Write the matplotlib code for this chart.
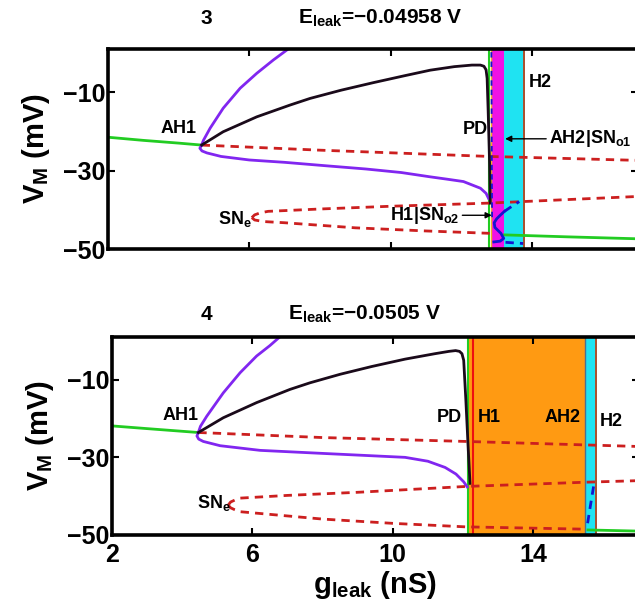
import numpy as np
import matplotlib
matplotlib.use('Agg')
import matplotlib.pyplot as plt

plt.rcParams['font.family'] = 'Liberation Sans'
plt.rcParams['font.weight'] = 'bold'
plt.rcParams['axes.labelweight'] = 'bold'
plt.rcParams['mathtext.fontset'] = 'custom'
plt.rcParams['mathtext.rm'] = 'Liberation Sans:bold'
plt.rcParams['mathtext.it'] = 'Liberation Sans:bold'
plt.rcParams['mathtext.bf'] = 'Liberation Sans:bold'
plt.rcParams['mathtext.default'] = 'rm'

GREEN = '#22cc22'
PURPLE = '#8126f0'
DARK = '#1a0a1a'
RED = '#cc1f1f'
BLUE = '#1414d0'
MAGENTA = '#f012e6'
CYAN = '#1fe3f2'
ORANGE = '#ff9a12'
BROWN = '#a0401a'

# ---------------- panel 3 : E_leak = -0.04958 V ----------------
p3_green_l_x = [2.0, 3.0, 4.0, 4.65]
p3_green_l_y = [-21.5, -22.3, -23.0, -23.5]
p3_purple_up_x = [4.65, 4.7, 4.89, 5.26, 5.74, 6.21, 6.68, 7.1, 7.2]
p3_purple_up_y = [-23.5, -22.3, -19.2, -14.1, -9.0, -5.2, -1.8, 1.0, 1.7]
p3_purple_lo_x = [4.65, 4.6, 4.66, 4.8, 5.2, 6.0, 7.0, 8.2, 9.3, 10.3, 11.12, 11.6, 12.06, 12.54, 12.7, 12.77]
p3_purple_lo_y = [-23.5, -24.3, -25.0, -25.5, -26.4, -27.3, -27.9, -28.8, -29.6, -30.5, -31.6, -32.2, -32.8, -34.5, -35.8, -37.1]
p3_black_x = [4.65, 5.26, 6.21, 7.15, 7.72, 8.6, 9.5, 10.4, 11.12, 11.8, 12.3, 12.54, 12.64, 12.7, 12.73, 12.76, 12.8, 12.82]
p3_black_y = [-23.5, -20.1, -16.3, -13.3, -11.6, -9.5, -7.6, -5.8, -4.4, -3.5, -3.1, -3.1, -3.4, -4.3, -6.5, -15.0, -28.0, -38.3]
p3_red_up_x = [4.65, 8.0, 12.8, 17.0]
p3_red_up_y = [-23.5, -24.8, -26.4, -27.4]
p3_red_mid_x = [6.07, 6.15, 6.3, 6.53, 8.0, 10.0, 12.77, 15.0, 17.0]
p3_red_mid_y = [-42.0, -41.3, -40.8, -40.4, -39.8, -39.1, -38.3, -37.4, -36.6]
p3_red_lo_x = [6.07, 6.15, 6.4, 6.99, 9.0, 11.0, 12.8]
p3_red_lo_y = [-42.0, -42.6, -43.0, -43.3, -44.6, -45.4, -46.0]
p3_green_r_x = [13.22, 15.0, 17.0]
p3_green_r_y = [-46.4, -46.9, -47.4]
p3_blue_x = [12.92, 13.1, 13.2, 13.12, 12.95, 12.93, 13.0, 13.1, 13.22]
p3_blue_y = [-48.2, -48.0, -47.3, -46.0, -44.5, -43.3, -42.3, -41.4, -40.4]
p3_blue_dash_x = [13.22, 13.35, 13.64]
p3_blue_dash_y = [-40.4, -39.6, -37.9]
p3_blue_bot_x = [13.25, 13.75]
p3_blue_bot_y = [-48.3, -48.6]
p3_blue_vert_x = [12.85, 12.87]
p3_blue_vert_y = [0.2, -42.0]
p3_pd, p3_yel = 12.79, 12.83
p3_magenta = (12.88, 13.22)
p3_cyan = (13.22, 13.75)
p3_h2 = 13.77

# ---------------- panel 4 : E_leak = -0.0505 V ----------------
p4_green_l_x = [2.0, 3.0, 4.46]
p4_green_l_y = [-21.9, -22.6, -23.6]
p4_purple_up_x = [4.46, 4.52, 4.7, 5.17, 5.65, 6.12, 6.5, 6.79, 6.9]
p4_purple_up_y = [-23.6, -22.0, -19.4, -13.4, -8.2, -3.9, -1.2, 1.1, 1.8]
p4_purple_lo_x = [4.46, 4.42, 4.47, 4.6, 5.08, 6.22, 8.04, 10.35, 11.0, 11.49, 11.8, 12.02, 12.12]
p4_purple_lo_y = [-23.6, -24.5, -25.3, -25.9, -27.0, -28.2, -29.0, -30.0, -31.0, -32.6, -34.3, -36.3, -37.6]
p4_black_x = [4.46, 5.17, 6.12, 7.07, 7.64, 8.5, 9.4, 10.35, 11.2, 11.6, 11.79, 11.9, 11.97, 12.02, 12.08, 12.15, 12.2]
p4_black_y = [-23.6, -19.8, -15.9, -12.5, -10.8, -8.6, -6.6, -4.7, -3.3, -2.7, -2.5, -2.7, -3.3, -5.0, -15.0, -28.0, -36.7]
p4_red_up_x = [4.46, 8.0, 12.07, 15.5, 17.0]
p4_red_up_y = [-23.6, -24.9, -25.9, -26.8, -27.2]
p4_red_mid_x = [5.31, 5.38, 5.5, 5.65, 7.0, 9.0, 12.07, 15.5, 17.0]
p4_red_mid_y = [-42.3, -41.5, -41.0, -40.5, -39.8, -39.0, -37.5, -36.4, -36.0]
p4_red_lo_x = [5.31, 5.38, 5.5, 5.65, 8.0, 10.0, 12.07, 15.47]
p4_red_lo_y = [-42.3, -43.0, -43.5, -44.0, -45.9, -47.0, -47.9, -48.5]
p4_green_r_x = [15.56, 17.0]
p4_green_r_y = [-48.7, -49.0]
p4_blue_x = [15.72, 15.62, 15.55, 15.6]
p4_blue_y = [-37.5, -43.0, -47.0, -48.3]
p4_pd, p4_h1 = 12.13, 12.29
p4_orange = (12.15, 15.47)
p4_cyan = (15.47, 15.76)
p4_h2 = 15.79

xticks = [2, 6, 10, 14]
yticks = [-50, -30, -10]

W, H = 635, 605
fig = plt.figure(figsize=(W / 100, H / 100), dpi=100)
ax3 = fig.add_axes([108 / W, (H - 249) / H, 530 / W, 200 / H])
ax4 = fig.add_axes([112 / W, (H - 535) / H, 526.5 / W, 198 / H])

lw = 2.0
dash = (0, (3.0, 2.2))


def style(ax, labels):
    ax.set_xlim(2, 17)
    ax.set_ylim(-50, 1)
    ax.set_xticks(xticks)
    ax.set_yticks(yticks)
    ax.tick_params(direction='in', top=True, right=True, length=5, width=1.5,
                   labelsize=18, pad=2)
    ax.tick_params(axis='x', pad=6)
    if not labels:
        ax.tick_params(labelbottom=False)
    for s in ax.spines.values():
        s.set_linewidth(2.6)
        s.set_zorder(10)
    ax.set_ylabel('V$_{M}$ (mV)', fontsize=21, labelpad=8)


# panel 3
ax = ax3
ax.axvspan(*p3_magenta, color=MAGENTA, lw=0, zorder=1)
ax.axvspan(*p3_cyan, color=CYAN, lw=0, zorder=1)
ax.axvline(p3_pd, color=GREEN, lw=1.5, zorder=2)
ax.axvline(p3_yel, color='#f0b020', lw=1.0, zorder=2)
ax.axvline(p3_h2, color=BROWN, lw=1.3, zorder=2)
ax.plot(p3_green_l_x, p3_green_l_y, color=GREEN, lw=lw)
ax.plot(p3_green_r_x, p3_green_r_y, color=GREEN, lw=lw)
ax.plot(p3_red_up_x, p3_red_up_y, color=RED, lw=lw, ls=dash)
ax.plot(p3_red_mid_x, p3_red_mid_y, color=RED, lw=lw, ls=dash)
ax.plot(p3_red_lo_x, p3_red_lo_y, color=RED, lw=lw, ls=dash)
ax.plot(p3_purple_up_x, p3_purple_up_y, color=PURPLE, lw=lw)
ax.plot(p3_purple_lo_x, p3_purple_lo_y, color=PURPLE, lw=lw)
ax.plot(p3_black_x, p3_black_y, color=DARK, lw=lw)
ax.plot(p3_blue_vert_x, p3_blue_vert_y, color=BLUE, lw=1.3, ls=dash)
ax.plot(p3_blue_x, p3_blue_y, color=BLUE, lw=lw)
ax.plot(p3_blue_dash_x, p3_blue_dash_y, color=BLUE, lw=lw, ls=dash)
ax.plot(p3_blue_bot_x, p3_blue_bot_y, color=BLUE, lw=lw, ls=dash)
fs = 13
ax.text(4.0, -20.3, 'AH1', fontsize=fs, ha='center', va='baseline')
ax.text(12.4, -20.8, 'PD', fontsize=fs, ha='center', va='baseline')
ax.text(14.24, -8.6, 'H2', fontsize=fs, ha='center', va='baseline')
ax.text(5.6, -43.5, 'SN$_{e}$', fontsize=fs, ha='center', va='baseline')
ax.annotate('AH2|SN$_{o1}$', xy=(13.24, -21.9), xytext=(14.48, -21.9),
            fontsize=fs, ha='left', va='center',
            arrowprops=dict(arrowstyle='-|>', color='black', lw=1.0,
                            mutation_scale=9, shrinkA=0, shrinkB=0))
ax.annotate('H1|SN$_{o2}$', xy=(12.86, -41.4), xytext=(11.95, -41.4),
            fontsize=fs, ha='right', va='center',
            arrowprops=dict(arrowstyle='-|>', color='black', lw=1.0,
                            mutation_scale=9, shrinkA=0, shrinkB=0))
style(ax, False)

# panel 4
ax = ax4
ax.axvspan(*p4_orange, color=ORANGE, lw=0, zorder=1)
ax.axvspan(*p4_cyan, color=CYAN, lw=0, zorder=1)
ax.axvline(p4_orange[1], color='#4a7090', lw=1.0, zorder=2)
ax.axvline(p4_pd, color=GREEN, lw=1.5, zorder=2)
ax.axvline(p4_h1, color='#ee1010', lw=1.5, zorder=2)
ax.axvline(p4_h2, color=BROWN, lw=1.3, zorder=2)
ax.plot(p4_green_l_x, p4_green_l_y, color=GREEN, lw=lw)
ax.plot(p4_green_r_x, p4_green_r_y, color=GREEN, lw=lw)
ax.plot(p4_red_up_x, p4_red_up_y, color=RED, lw=lw, ls=dash)
ax.plot(p4_red_mid_x, p4_red_mid_y, color=RED, lw=lw, ls=dash)
ax.plot(p4_red_lo_x, p4_red_lo_y, color=RED, lw=lw, ls=dash)
ax.plot(p4_purple_up_x, p4_purple_up_y, color=PURPLE, lw=lw)
ax.plot(p4_purple_lo_x, p4_purple_lo_y, color=PURPLE, lw=lw)
ax.plot(p4_black_x, p4_black_y, color=DARK, lw=lw)
ax.plot(p4_blue_x, p4_blue_y, color=BLUE, lw=lw, ls=dash)
ax.text(3.94, -20.3, 'AH1', fontsize=fs, ha='center', va='baseline')
ax.text(11.6, -21.0, 'PD', fontsize=fs, ha='center', va='baseline')
ax.text(12.74, -21.0, 'H1', fontsize=fs, ha='center', va='baseline')
ax.text(14.83, -21.0, 'AH2', fontsize=fs, ha='center', va='baseline')
ax.text(16.23, -21.8, 'H2', fontsize=fs, ha='center', va='baseline')
ax.text(4.9, -43.0, 'SN$_{e}$', fontsize=fs, ha='center', va='baseline')
style(ax, True)
ax.set_xlabel('g$_{leak}$ (nS)', fontsize=21, labelpad=1)

# panel titles
tfs = 15
fig.text(206 / W, 1 - 24 / H, '3', fontsize=tfs, ha='center', va='baseline')
fig.text(380 / W, 1 - 24 / H, 'E$_{leak}$=\u22120.04958 V', fontsize=tfs, ha='center', va='baseline')
fig.text(206 / W, 1 - 320 / H, '4', fontsize=tfs, ha='center', va='baseline')
fig.text(364 / W, 1 - 320 / H, 'E$_{leak}$=\u22120.0505 V', fontsize=tfs, ha='center', va='baseline')

fig.savefig('out.png', dpi=100)
